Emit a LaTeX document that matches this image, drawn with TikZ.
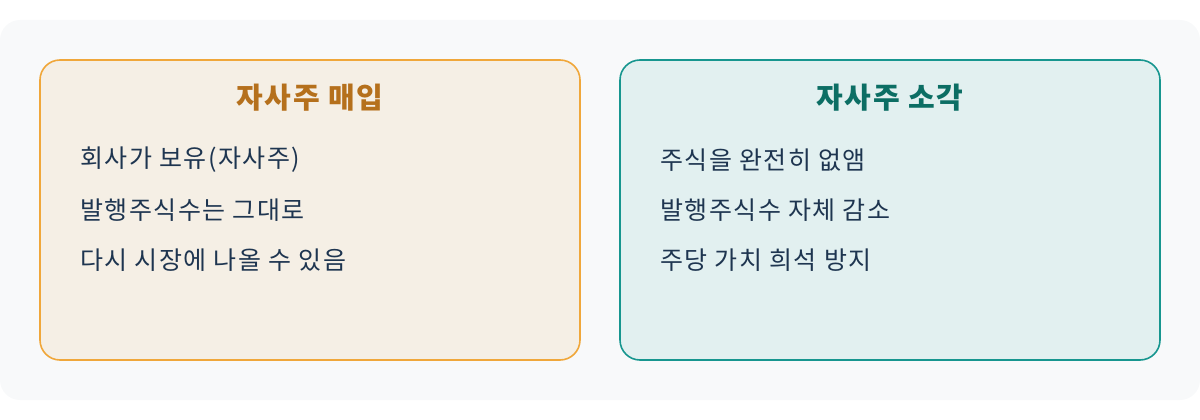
\documentclass[tikz,border=0pt]{standalone}
\usepackage{fontspec}
\setmainfont{Noto Sans CJK KR}[LetterSpace=6]
\definecolor{bgray}{HTML}{F8F9FA}
\definecolor{buyline}{HTML}{F0A73A}
\definecolor{buyfill}{HTML}{F5EFE5}
\definecolor{buytitle}{HTML}{B5701C}
\definecolor{burnline}{HTML}{17968F}
\definecolor{burnfill}{HTML}{E2F0F0}
\definecolor{burntitle}{HTML}{0C6E64}
\definecolor{itemtext}{HTML}{1E3550}
\tikzset{
  panel/.style={rounded corners=20pt, line width=1.6pt},
  title/.style={font=\fontsize{29}{32}\selectfont\bfseries, anchor=center},
  item/.style={font=\fontsize{25}{28}\selectfont, text=itemtext, anchor=west, inner sep=0pt}
}
\begin{document}
\begin{tikzpicture}[x=1pt,y=-1pt]
	\useasboundingbox (0,0) rectangle (1200,420);
	\fill[bgray, rounded corners=20pt] (0,20) rectangle (1200,400);

	% buy back
	\draw[panel, draw=buyline, fill=buyfill] (40,60) rectangle (580,360);
	\node[title, text=buytitle] (buy) at (310,98) {자사주 매입};
	\node[item] (buy1) at (80,160) {회사가 보유(자사주)};
	\node[item] (buy2) at (80,210) {발행주식수는 그대로};
	\node[item] (buy3) at (80,260) {다시 시장에 나올 수 있음};

	% burn
	\draw[panel, draw=burnline, fill=burnfill] (620,60) rectangle (1160,360);
	\node[title, text=burntitle] (burn) at (890,98) {자사주 소각};
	\node[item] (burn1) at (660,160) {주식을 완전히 없앰};
	\node[item] (burn2) at (660,210) {발행주식수 자체 감소};
	\node[item] (burn3) at (660,260) {주당 가치 희석 방지};
\end{tikzpicture}
\end{document}
